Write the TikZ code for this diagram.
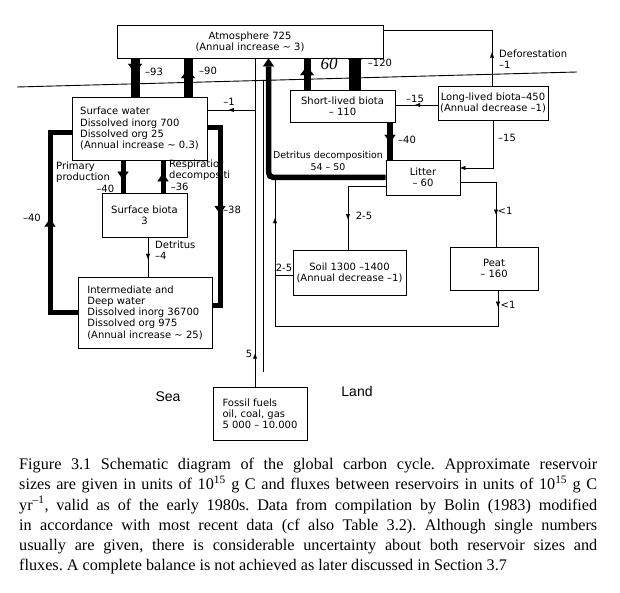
\documentclass[tikz,border=0pt]{standalone}
\usepackage{fontspec}
\setmainfont{Liberation Serif}
\newfontfamily\dfont{DejaVu Sans}
\newfontfamily\lfont{Liberation Sans}
\usetikzlibrary{arrows.meta,decorations.markings}
\tikzset{
  sT/.tip={Triangle[length=5pt,width=4pt,line width=0.01pt]},
  bT/.tip={Triangle[length=9pt,width=14pt,line width=0.01pt]},
  mT/.tip={Triangle[length=8pt,width=11pt,line width=0.01pt]},
  dtext/.style={font=\dfont\fontsize{10}{11.2}\selectfont},
  boxc/.style={draw, line width=0.9pt, dtext, align=center, inner sep=2pt},
  boxl/.style={draw, line width=0.9pt, dtext, align=left, inner sep=2pt},
  lbl/.style={dtext, inner sep=0pt},
  thinln/.style={line width=0.8pt},
  fat/.style={line width=#1, line join=miter, line cap=butt},
  marr/.style={postaction={decorate,decoration={markings,
     mark=at position #1 with {\arrow{sT}}}}},
  marr2/.style 2 args={postaction={decorate,decoration={markings,
     mark=at position #1 with {\arrow{sT}},
     mark=at position #2 with {\arrow{sT}}}}},
  Marr/.style={postaction={decorate,decoration={markings,
     mark=at position #1 with {\arrow{bT}}}}},
  Narr/.style={postaction={decorate,decoration={markings,
     mark=at position #1 with {\arrow{mT}}}}},
}
\begin{document}
\begin{tikzpicture}[x=1pt,y=-1pt]
\useasboundingbox (0,0) rectangle (620,593);

% sea surface
\coordinate (sl) at (17,87);
\coordinate (sr) at (577,72);
\draw[line width=0.9pt] (sl) -- (sr);

% boxes
\node[boxc, minimum width=266pt, minimum height=33pt] (atm) at (250,41.5)
  {Atmosphere 725\\(Annual increase \textasciitilde\ 3)};
\node[boxl, minimum width=135pt, minimum height=63pt] (sw) at (139.5,128.5)
  {Surface water\\Dissolved inorg 700\\Dissolved org 25\\(Annual increase \textasciitilde\ 0.3)};
\node[boxc, minimum width=85pt, minimum height=44pt] (sb) at (144.5,215)
  {Surface biota\\3};
\node[boxl, minimum width=134pt, minimum height=71pt] (dw) at (145,312.5)
  {Intermediate and\\Deep water\\Dissolved inorg 36700\\Dissolved org 975\\(Annual increase \textasciitilde\ 25)};
\node[boxl, minimum width=94pt, minimum height=53pt] (ff) at (260,413.5)
  {Fossil fuels\\oil, coal, gas\\5 000 – 10.000};
\node[boxc, minimum width=105pt, minimum height=32pt] (slb) at (342.5,106)
  {Short-lived biota\\– 110};
\node[boxc, minimum width=110pt, minimum height=34pt] (llb) at (493,103)
  {Long-lived biota–450\\(Annual decrease –1)};
\node[boxc, minimum width=74pt, minimum height=35pt] (lit) at (423,177.5)
  {Litter\\– 60};
\node[boxc, minimum width=113pt, minimum height=45pt] (soil) at (349.5,272.5)
  {Soil 1300 –1400\\(Annual decrease –1)};
\node[boxc, minimum width=88pt, minimum height=43pt] (peat) at (494,268.5)
  {Peat\\– 160};

% junction coordinates
\coordinate (riv) at (255,110);
\coordinate (dvt) at (263,80);
\coordinate (dvb) at (263,372);
\coordinate (ret) at (275,326);
\coordinate (retp) at (498,326);
\coordinate (retj) at (275,177.5);
\coordinate (soilj) at (275,275);
\coordinate (dftop) at (492,30);
\coordinate (l15) at (493,168);
\coordinate (llx) at (50,312);
\coordinate (lly) at (50,133);
\coordinate (rlx) at (220,128);
\coordinate (rly) at (220,305);

% atmosphere - sea fluxes
\draw[fat=9pt, Marr=0.38] (atm.south -| 135,0) -- (sw.north -| 135,0);
\draw[fat=9pt, Marr=0.72] (sw.north -| 188,0) -- (atm.south -| 188,0);
% atmosphere - land
\draw[fat=7pt, Marr=0.75] (slb.north -| 307,0) -- (atm.south -| 307,0);
\draw[fat=12pt, Marr=0.3] (atm.south -| 355,0) -- (slb.north -| 355,0);

% fossil fuels and divider
\draw[thinln, marr=0.1] (ff.north -| 255,0) -- (atm.south -| 255,0);
\draw[thinln] (dvt) -- (dvb);
% river
\draw[thinln, marr=0.55] (riv) -- (sw.east |- riv);

% detritus decomposition
\draw[fat=5.5pt, rounded corners=5pt, -mT] (lit.west) -| (atm.south -| 268.5,0);

% ocean loops
\draw[fat=5pt, Narr=0.53] (dw.west |- llx) -- (llx) -- (lly) -- (sw.west |- lly);
\draw[fat=5pt, Narr=0.5] (sw.east |- rlx) -- (rlx) -- (rly) -- (dw.east |- rly);
\draw[fat=5pt, Narr=0.6] (sw.south -| 123,0) -- (sb.north -| 123,0);
\draw[fat=5pt, Narr=0.6] (sb.north -| 163,0) -- (sw.south -| 163,0);
\draw[thinln, marr=0.55] (sb.south -| 148,0) -- (dw.north -| 148,0);

% land fluxes
\draw[fat=6pt, Narr=0.55] (slb.south -| 390,0) -- (lit.north -| 390,0);
\draw[thinln, marr=0.53] (llb.west |- 0,105) -- (slb.east |- 0,105);
\draw[thinln, marr=0.2] (llb.north -| dftop) -- (dftop) -- (atm.east |- dftop);
\draw[thinln, -sT] (llb.south -| l15) -- (l15) -- (lit.east |- l15);
\draw[thinln, marr=0.7] (lit.west |- 0,186) -| (soil.north -| 348,0);
\draw[thinln, marr=0.68] (lit.east |- 0,182) -| (peat.north -| 496,0);
\draw[thinln, marr2={0.04}{0.9}] (peat.south -| retp) -- (retp) -- (ret) -- (retj);
\draw[thinln] (soil.west |- soilj) -- (soilj);

% labels
\node[lbl] (l93) at (154,72) {–93};
\node[lbl] (l90) at (208,71) {–90};
\node[font=\itshape\fontsize{17}{17}\selectfont] (l60) at (329,64) {60};
\node[lbl] (l120) at (380,63) {–120};
\node[lbl] (lriv) at (229,102) {–1};
\node[lbl, anchor=west, align=left] (ldef) at (499,59) {Deforestation\\–1};
\node[lbl] (l15a) at (415,99) {–15};
\node[lbl] (l40b) at (407,140) {–40};
\node[lbl] (l15b) at (507,138) {–15};
\node[lbl, align=center, font=\dfont\fontsize{9.4}{11.2}\selectfont] (ldd) at (328,161) {Detritus decomposition\\54 – 50};
\node[lbl] (l25a) at (364,216) {2-5};
\node[lbl] (l1a) at (505,211) {<1};
\node[lbl] (l1b) at (508,305) {<1};
\node[lbl] (l25b) at (284,268) {2-5};
\node[lbl] (l40a) at (32,218) {–40};
\node[lbl] (l38) at (232,210) {–38};
\node[lbl, anchor=north west, text width=58pt, align=left] (lpp) at (56,162)
  {Primary\\production\\\hfill–40};
\node[lbl, anchor=north west, align=left] (lresp) at (169,160)
  {Respiratior\\decompositi\\\,–36};
\node[lbl, anchor=north west, align=left] (ldet) at (155,241) {Detritus\\–4};
\node[lbl] (l5) at (249,354) {5};
\node[font=\lfont\fontsize{14}{14}\selectfont] (sea) at (168,397) {Sea};
\node[font=\lfont\fontsize{14}{14}\selectfont] (land) at (357,391) {Land};

% caption
\node[anchor=north west, text width=578pt, align=justify, inner sep=0pt,
      font=\fontsize{16.2}{20.2}\selectfont\frenchspacing] (cap) at (19,458)
 {Figure 3.1 Schematic diagram of the global carbon cycle. Approximate reservoir\linebreak
  sizes are given in units of 10\textsuperscript{15} g C and fluxes between reservoirs in units of 10\textsuperscript{15} g C\linebreak
  yr\textsuperscript{–1}, valid as of the early 1980s. Data from compilation by Bolin (1983) modified\linebreak
  in accordance with most recent data (cf also Table 3.2). Although single numbers\linebreak
  usually are given, there is considerable uncertainty about both reservoir sizes and\linebreak
  fluxes. A complete balance is not achieved as later discussed in Section 3.7};
\end{tikzpicture}
\end{document}
